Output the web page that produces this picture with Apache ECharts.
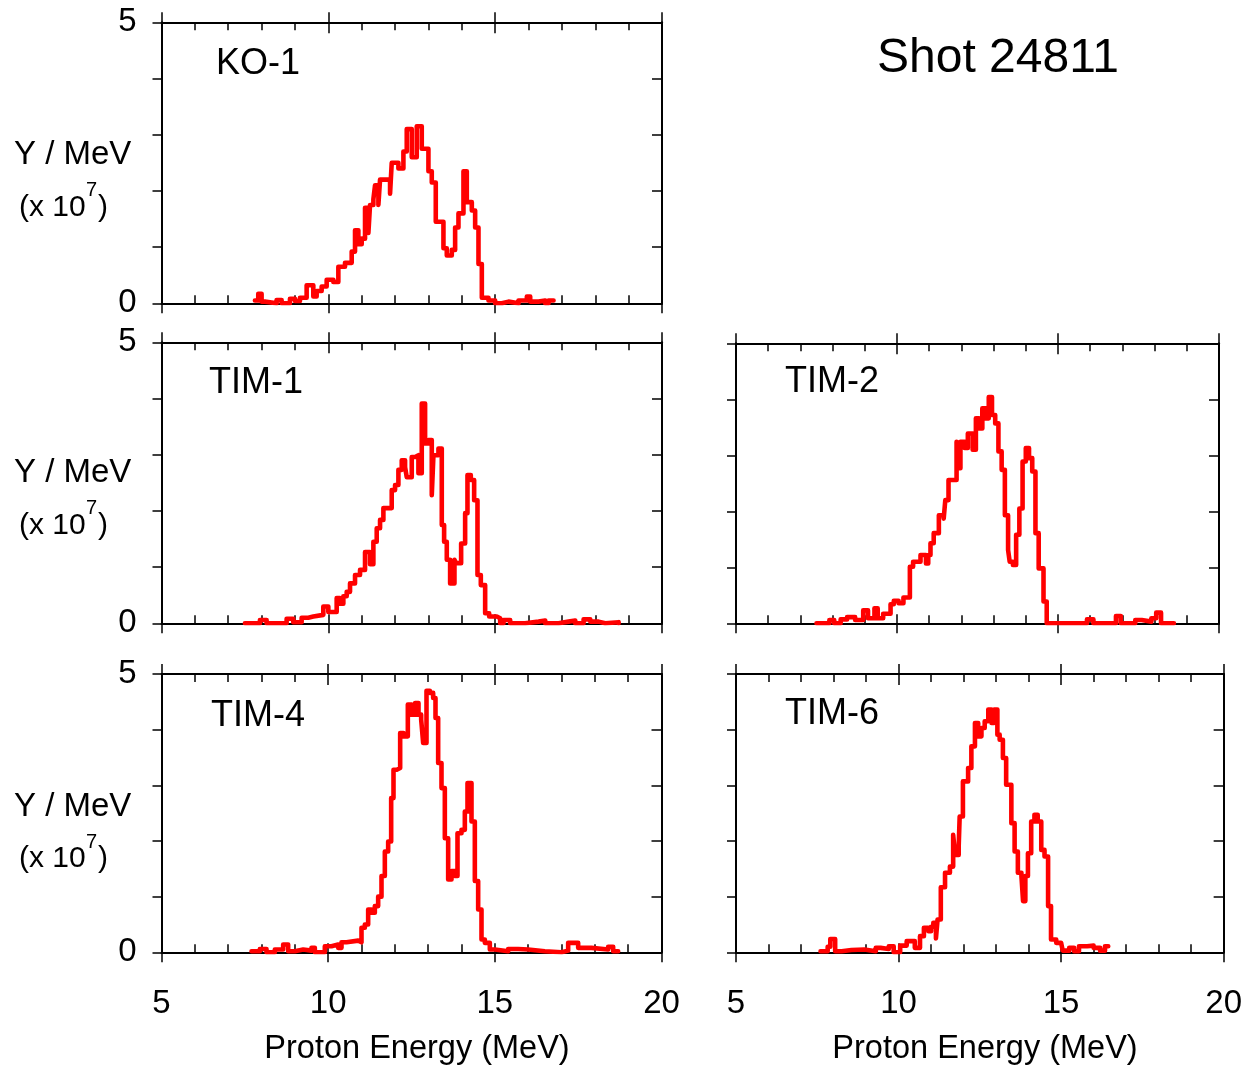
<!DOCTYPE html>
<html><head><meta charset="utf-8">
<script src="https://cdn.jsdelivr.net/npm/echarts@6/dist/echarts.min.js"></script>
<style>html,body{margin:0;padding:0;background:#fff}#c{width:1245px;height:1069px}</style>
</head><body><div id="c"></div><script>
// ---- data: [energy (MeV), Y/MeV (x1e7)] step-histogram points ----
const ko1 = [[7.8,0.05],[7.9,0.17],[8.0,0.03],[8.1,0.0],[8.45,0.06],[8.6,0.0],[8.85,0.08],[9.0,0.04],[9.15,0.1],[9.35,0.32],[9.55,0.12],[9.65,0.22],[9.8,0.3],[9.95,0.42],[10.15,0.38],[10.3,0.65],[10.5,0.72],[10.7,0.92],[10.8,1.3],[10.9,1.05],[11.0,1.15],[11.1,1.7],[11.2,1.25],[11.25,1.75],[11.35,1.85],[11.4,2.1],[11.5,1.75],[11.55,2.2],[11.85,1.95],[11.9,2.5],[12.1,2.4],[12.25,2.7],[12.35,3.1],[12.5,2.6],[12.65,3.15],[12.8,2.75],[13.0,2.35],[13.1,2.15],[13.22,1.45],[13.45,0.98],[13.55,0.85],[13.7,0.95],[13.8,1.35],[13.9,1.6],[14.05,2.35],[14.15,1.8],[14.3,1.65],[14.4,1.35],[14.5,0.7],[14.6,0.1],[14.8,0.05],[15.0,0.0],[15.2,0.03],[15.4,0.0],[15.7,0.05],[15.95,0.12],[16.05,0.03],[16.3,0.05],[16.5,0.0],[16.6,0.05],[16.75,0.05]];
const tim1 = [[7.5,0.0],[7.95,0.06],[8.15,0.0],[8.75,0.08],[8.95,0.02],[9.2,0.1],[9.4,0.12],[9.55,0.15],[9.85,0.3],[10.0,0.2],[10.25,0.45],[10.35,0.35],[10.45,0.48],[10.55,0.56],[10.65,0.71],[10.8,0.86],[10.95,0.95],[11.1,1.27],[11.25,1.05],[11.35,1.45],[11.45,1.69],[11.55,1.84],[11.65,2.05],[11.9,2.37],[12.0,2.46],[12.1,2.73],[12.2,2.9],[12.3,2.78],[12.35,2.6],[12.5,2.96],[12.6,2.99],[12.7,2.67],[12.8,3.91],[12.9,3.2],[13.0,3.26],[13.1,2.28],[13.15,2.99],[13.3,3.11],[13.4,1.75],[13.47,1.45],[13.55,1.13],[13.65,0.71],[13.78,1.13],[13.83,1.07],[13.98,1.42],[14.1,1.96],[14.17,2.64],[14.27,2.55],[14.37,2.19],[14.47,0.86],[14.57,0.68],[14.7,0.18],[14.82,0.12],[15.05,0.09],[15.15,0.0],[15.25,0.06],[15.45,0.0],[15.9,0.03],[16.3,0.05],[16.5,0.0],[16.9,0.03],[17.2,0.05],[17.4,0.0],[17.65,0.07],[17.85,0.03],[18.1,0.0],[18.3,0.02],[18.7,0.0]];
const tim2 = [[7.5,0.0],[7.9,0.06],[8.05,0.0],[8.25,0.07],[8.45,0.11],[8.7,0.06],[8.95,0.23],[9.1,0.09],[9.3,0.27],[9.4,0.09],[9.57,0.17],[9.8,0.34],[9.9,0.4],[10.05,0.36],[10.2,0.46],[10.4,1.01],[10.5,1.1],[10.73,1.22],[10.9,1.07],[10.97,1.22],[11.04,1.43],[11.14,1.61],[11.3,1.93],[11.45,1.87],[11.5,2.2],[11.6,2.56],[11.85,3.24],[11.9,2.77],[11.97,3.24],[12.1,3.13],[12.2,3.39],[12.35,3.1],[12.45,3.66],[12.55,3.48],[12.65,3.84],[12.75,3.66],[12.85,4.04],[12.95,3.72],[13.05,3.57],[13.15,3.07],[13.25,2.74],[13.35,1.93],[13.45,1.31],[13.5,1.1],[13.6,1.04],[13.7,1.58],[13.8,2.05],[13.9,2.89],[14.0,3.13],[14.1,2.95],[14.2,2.71],[14.3,1.61],[14.4,0.98],[14.55,0.39],[14.65,0.0],[15.9,0.07],[16.1,0.0],[16.8,0.13],[16.95,0.0],[17.4,0.06],[17.6,0.03],[17.9,0.09],[18.05,0.19],[18.2,0.0],[18.6,0.0]];
const tim4 = [[7.7,0.02],[7.95,0.06],[8.15,0.0],[8.4,0.05],[8.65,0.14],[8.8,0.02],[9.0,0.05],[9.25,0.03],[9.5,0.08],[9.6,0.0],[9.9,0.11],[10.1,0.14],[10.3,0.08],[10.4,0.18],[10.55,0.21],[10.9,0.18],[11.0,0.44],[11.1,0.5],[11.2,0.77],[11.3,0.71],[11.4,0.83],[11.5,1.0],[11.6,1.37],[11.7,1.81],[11.8,1.99],[11.89,2.77],[11.96,3.28],[12.06,3.31],[12.16,3.94],[12.26,3.88],[12.39,4.45],[12.51,4.27],[12.61,4.48],[12.71,4.27],[12.79,4.18],[12.85,3.76],[12.95,4.7],[13.05,4.66],[13.15,4.57],[13.22,4.21],[13.3,3.4],[13.4,2.95],[13.5,2.05],[13.6,1.31],[13.7,1.46],[13.8,1.37],[13.88,2.14],[14.0,2.2],[14.1,2.53],[14.18,3.04],[14.3,2.35],[14.4,1.28],[14.5,0.77],[14.6,0.23],[14.7,0.17],[14.85,0.05],[15.0,0.02],[15.4,0.06],[15.7,0.05],[16.0,0.02],[16.5,0.01],[16.75,0.0],[17.0,0.03],[17.2,0.17],[17.5,0.08],[17.9,0.05],[18.4,0.1],[18.55,0.02],[18.7,0.02]];
const tim6 = [[7.6,0.02],[7.82,0.1],[7.9,0.24],[8.05,0.02],[8.25,0.04],[8.55,0.05],[8.95,0.02],[9.3,0.08],[9.45,0.06],[9.7,0.11],[9.85,0.0],[10.05,0.12],[10.25,0.2],[10.5,0.08],[10.66,0.29],[10.78,0.44],[10.92,0.38],[11.0,0.46],[11.07,0.53],[11.15,0.25],[11.2,0.59],[11.3,1.17],[11.43,1.43],[11.58,1.54],[11.68,2.11],[11.74,1.75],[11.85,1.9],[11.88,2.44],[11.98,3.07],[12.14,3.31],[12.24,3.7],[12.35,4.12],[12.45,3.88],[12.55,4.03],[12.65,4.15],[12.76,4.36],[12.86,4.12],[12.94,4.36],[13.04,3.91],[13.11,3.82],[13.21,3.49],[13.31,3.01],[13.47,2.32],[13.57,1.81],[13.67,1.43],[13.78,1.37],[13.83,0.92],[13.9,1.37],[13.98,1.78],[14.08,2.35],[14.18,2.47],[14.28,2.35],[14.39,1.84],[14.49,1.72],[14.6,0.83],[14.69,0.23],[14.85,0.17],[15.0,0.14],[15.05,0.03],[15.25,0.08],[15.4,0.02],[15.55,0.11],[15.8,0.12],[16.0,0.08],[16.2,0.03],[16.35,0.11],[16.45,0.11]];
const panelNames = ['KO-1','TIM-1','TIM-2','TIM-4','TIM-6'];
const panelData = [ko1, tim1, tim2, tim4, tim6];
const xTicks = [5, 10, 15, 20];
const yTicks = [0, 5];

const FONT = '"Liberation Sans", Arial, Helvetica, sans-serif';
// layout
const panels = [
  {left:161.5, top:22.3, width:500.5, height:281, xLab:false, yLab:true},
  {left:161.5, top:342.3, width:500.5, height:281, xLab:false, yLab:true},
  {left:736, top:343.3, width:483, height:280, xLab:false, yLab:false},
  {left:161.5, top:674, width:500, height:278.3, xLab:true, yLab:true},
  {left:736, top:674, width:489, height:278.3, xLab:true, yLab:false}
];
const labelPos = [[216,64.5],[209,383.5],[785,382],[211,716.5],[785,714]];

const black = {color:'#000', width:2};
const tickStyle = {color:'#000', width:1.5};
const grid = [], xAxis = [], yAxis = [], series = [];
panels.forEach((p, i) => {
  grid.push({left:p.left, top:p.top, width:p.width, height:p.height, containLabel:false});
  const base = {gridIndex:i, type:'value', min:xTicks[0], max:xTicks[xTicks.length-1], interval:5, splitLine:{show:false}};
  xAxis.push(Object.assign({}, base, {position:'bottom',
    axisLine:{show:true, onZero:false, lineStyle:black},
    axisTick:{show:true, inside:true, length:9, lineStyle:tickStyle},
    minorTick:{show:true, splitNumber:5, length:8, lineStyle:tickStyle},
    axisLabel:{show:p.xLab, margin:35, fontSize:33, color:'#000', fontFamily:FONT,
      formatter: v => xTicks.indexOf(v) >= 0 ? String(v) : ''}}));
  xAxis.push(Object.assign({}, base, {position:'bottom',
    axisLine:{show:false, onZero:false}, axisTick:{show:true, inside:false, length:10, lineStyle:tickStyle},
    axisLabel:{show:false}}));
  xAxis.push(Object.assign({}, base, {position:'top',
    axisLine:{show:true, onZero:false, lineStyle:black},
    axisTick:{show:true, inside:true, length:11, lineStyle:tickStyle},
    minorTick:{show:true, splitNumber:5, length:8, lineStyle:tickStyle},
    axisLabel:{show:false}}));
  xAxis.push(Object.assign({}, base, {position:'top',
    axisLine:{show:false, onZero:false}, axisTick:{show:true, inside:false, length:10, lineStyle:tickStyle},
    axisLabel:{show:false}}));
  const ybase = {gridIndex:i, type:'value', min:0, max:5, interval:1, splitLine:{show:false}};
  yAxis.push(Object.assign({}, ybase, {position:'left',
    axisLine:{show:true, onZero:false, lineStyle:black},
    axisTick:{show:true, inside:false, length:9, lineStyle:tickStyle},
    axisLabel:{show:p.yLab, margin:25, fontSize:33, color:'#000', fontFamily:FONT,
      formatter: v => yTicks.indexOf(v) >= 0 ? String(v) : ''}}));
  yAxis.push(Object.assign({}, ybase, {position:'right',
    axisLine:{show:true, onZero:false, lineStyle:black},
    axisTick:{show:true, inside:true, length:10, lineStyle:tickStyle},
    axisLabel:{show:false}}));
  series.push({type:'line', name:panelNames[i], xAxisIndex:i*4, yAxisIndex:i*2, data:panelData[i],
    step:'end', showSymbol:false, symbol:'none', clip:true,
    lineStyle:{color:'#ff0000', width:4.6, join:'round', cap:'round'}, z:5});
});

const graphic = [];
function txt(s, x, y, size, align) {
  graphic.push({type:'text', x:x, y:y, z:10, style:{text:s, font:size+'px '+FONT, fill:'#000',
    align:align||'left', verticalAlign:'middle', textAlign:align||'left', textVerticalAlign:'middle'}});
}
panelNames.forEach((n, i) => txt(n, labelPos[i][0], labelPos[i][1], 36));
txt('Shot 24811', 877, 58.5, 48);
[0, 3].forEach(i => {
  const t = panels[i].top;
  txt('Y / MeV', 14, t + 133, 33);
  txt('(x 10', 19, t + 185, 30);
  txt('7', 86, t + 168, 20);
  txt(')', 98, t + 185, 30);
});
{
  const t = panels[1].top;
  txt('Y / MeV', 14, t + 131, 33);
  txt('(x 10', 19, t + 183, 30);
  txt('7', 86, t + 166, 20);
  txt(')', 98, t + 183, 30);
}
txt('Proton Energy (MeV)', 417, 1049, 32.5, 'center');
txt('Proton Energy (MeV)', 985, 1049, 32.5, 'center');

const chart = echarts.init(document.getElementById('c'), null, {renderer:'canvas'});
chart.setOption({animation:false, backgroundColor:'#fff', grid, xAxis, yAxis, series, graphic});
</script></body></html>
